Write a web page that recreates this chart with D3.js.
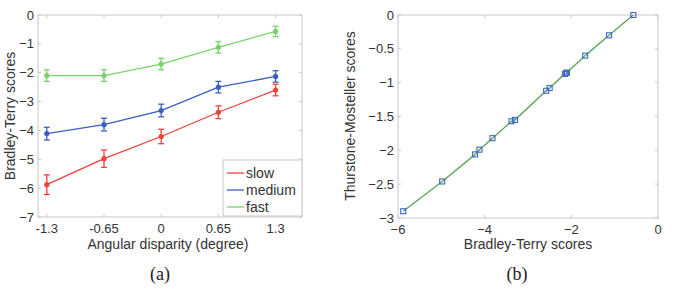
<!DOCTYPE html>
<html>
<head>
<meta charset="utf-8">
<script src="https://cdn.jsdelivr.net/npm/d3@7"></script>
<style>
  body { margin: 0; background: #fff; }
  svg text { font-family: "Liberation Sans", Arial, sans-serif; }
</style>
</head>
<body>
<div id="chart"></div>
<script>
// data
const disparity = [-1.3, -0.65, 0, 0.65, 1.3];
const disparityTicks = ["-1.3", "-0.65", "0", "0.65", "1.3"];
const slowScores = [-5.88, -4.98, -4.21, -3.37, -2.6];
const mediumScores = [-4.11, -3.8, -3.31, -2.5, -2.13];
const fastScores = [-2.1, -2.1, -1.7, -1.12, -0.57];
const slowErr = [0.34, 0.3, 0.25, 0.22, 0.2];
const mediumErr = [0.22, 0.22, 0.22, 0.2, 0.2];
const fastErr = [0.2, 0.2, 0.2, 0.2, 0.18];
const seriesNames = ["slow", "medium", "fast"];
const seriesColors = ["#f0413c", "#3b5fbf", "#7ad26a"];

const btScores = [-0.57, -1.13, -1.68, -2.1, -2.12, -2.15, -2.5, -2.58, -3.3, -3.38, -3.82, -4.12, -4.22, -4.98, -5.88];
const tmScores = [0, -0.3, -0.6, -0.85, -0.86, -0.87, -1.08, -1.12, -1.55, -1.57, -1.82, -1.99, -2.06, -2.46, -2.9];

const W = 677, H = 290;
const svg = d3.select('#chart').append('svg')
    .attr('width', W).attr('height', H);

const axisGray = "#c8c8c8", textGray = "#333";

// draw a matlab style box with ticks on all sides
function drawBox(x, y, xTicks, yTicks, xFmt, yFmt) {
    const [x0, x1] = x.range(), [y0, y1] = y.range();
    const g = svg.append('g');
    g.append('rect')
        .attr('x', x0).attr('y', y1)
        .attr('width', x1 - x0).attr('height', y0 - y1)
        .attr('fill', 'none').attr('stroke', axisGray).attr('stroke-width', 1);
    xTicks.forEach((t, i) => {
        const px = x(t);
        g.append('line').attr('x1', px).attr('x2', px).attr('y1', y0).attr('y2', y0 - 3).attr('stroke', axisGray);
        g.append('line').attr('x1', px).attr('x2', px).attr('y1', y1).attr('y2', y1 + 3).attr('stroke', axisGray);
        g.append('text').attr('x', px).attr('y', y0 + 16)
            .attr('text-anchor', 'middle').attr('font-size', 13).attr('fill', textGray)
            .text(xFmt(t, i));
    });
    yTicks.forEach((t, i) => {
        const py = y(t);
        g.append('line').attr('x1', x0).attr('x2', x0 + 3).attr('y1', py).attr('y2', py).attr('stroke', axisGray);
        g.append('line').attr('x1', x1).attr('x2', x1 - 3).attr('y1', py).attr('y2', py).attr('stroke', axisGray);
        g.append('text').attr('x', x0 - 4).attr('y', py + 4.5)
            .attr('text-anchor', 'end').attr('font-size', 13).attr('fill', textGray)
            .text(yFmt(t, i));
    });
}

// ---------- (a) ----------
const xA = d3.scaleLinear().domain([-1.4, 1.6]).range([38, 302]);
const yA = d3.scaleLinear().domain([-7, 0]).range([217, 15]);

drawBox(xA, yA, disparity, d3.range(-7, 1), (t, i) => disparityTicks[i], t => d3.format("d")(t));

const seriesVals = [slowScores, mediumScores, fastScores];
const seriesErrs = [slowErr, mediumErr, fastErr];
const lineA = d3.line().x((d, i) => xA(disparity[i])).y(d => yA(d));

seriesVals.forEach((vals, s) => {
    const col = seriesColors[s];
    const g = svg.append('g');
    g.append('path').datum(vals)
        .attr('fill', 'none').attr('stroke', col).attr('stroke-width', 1.3)
        .attr('d', lineA);
    vals.forEach((v, i) => {
        const px = xA(disparity[i]);
        const e = seriesErrs[s][i];
        g.append('line').attr('x1', px).attr('x2', px)
            .attr('y1', yA(v - e)).attr('y2', yA(v + e))
            .attr('stroke', col).attr('stroke-width', 1.3);
        [v - e, v + e].forEach(c => {
            g.append('line').attr('x1', px - 3).attr('x2', px + 3)
                .attr('y1', yA(c)).attr('y2', yA(c))
                .attr('stroke', col).attr('stroke-width', 1.3);
        });
        g.append('circle').attr('cx', px).attr('cy', yA(v)).attr('r', 2.6).attr('fill', col);
    });
});

// legend
const legend = svg.append('g').attr('transform', 'translate(223,160)');
legend.append('rect').attr('x', 0).attr('y', 0).attr('width', 79).attr('height', 56)
    .attr('fill', '#fff').attr('stroke', axisGray);
seriesNames.forEach((n, i) => {
    const ly = 13 + i * 17;
    legend.append('line').attr('x1', 4).attr('x2', 21).attr('y1', ly).attr('y2', ly)
        .attr('stroke', seriesColors[i]).attr('stroke-width', 1.3);
    legend.append('text').attr('x', 23).attr('y', ly + 5)
        .attr('font-size', 14).attr('fill', textGray).text(n);
});

svg.append('text').attr('x', 168).attr('y', 249)
    .attr('text-anchor', 'middle').attr('font-size', 14).attr('fill', textGray)
    .text("Angular disparity (degree)");
svg.append('text').attr('transform', 'translate(15,116) rotate(-90)')
    .attr('text-anchor', 'middle').attr('font-size', 14).attr('fill', textGray)
    .text("Bradley-Terry scores");
svg.append('text').attr('x', 160).attr('y', 280)
    .attr('text-anchor', 'middle').attr('font-size', 18).attr('fill', '#222')
    .style('font-family', '"Liberation Serif", "Times New Roman", serif')
    .text("(a)");

// ---------- (b) ----------
const xB = d3.scaleLinear().domain([-6, 0]).range([398, 658]);
const yB = d3.scaleLinear().domain([-3, 0]).range([218, 15]);

drawBox(xB, yB, [-6, -4, -2, 0], d3.range(-3, 0.01, 0.5), t => d3.format("d")(t), t => d3.format("")(t));

const pairs = btScores.map((b, i) => ({bt: b, tm: tmScores[i]})).sort((a, b) => a.bt - b.bt);
svg.append('path').datum(pairs)
    .attr('fill', 'none').attr('stroke', '#5aa85a').attr('stroke-width', 1.4)
    .attr('d', d3.line().x(d => xB(d.bt)).y(d => yB(d.tm)));
svg.append('g').selectAll('rect').data(pairs).enter().append('rect')
    .attr('x', d => xB(d.bt) - 2.5).attr('y', d => yB(d.tm) - 2.5)
    .attr('width', 5).attr('height', 5)
    .attr('fill', 'none').attr('stroke', '#3f66c0').attr('stroke-width', 1.1);

svg.append('text').attr('x', 528).attr('y', 249)
    .attr('text-anchor', 'middle').attr('font-size', 14).attr('fill', textGray)
    .text("Bradley-Terry scores");
svg.append('text').attr('transform', 'translate(355,116) rotate(-90)')
    .attr('text-anchor', 'middle').attr('font-size', 14).attr('fill', textGray)
    .text("Thurstone-Mosteller scores");
svg.append('text').attr('x', 517).attr('y', 280)
    .attr('text-anchor', 'middle').attr('font-size', 18).attr('fill', '#222')
    .style('font-family', '"Liberation Serif", "Times New Roman", serif')
    .text("(b)");
</script>
</body>
</html>
